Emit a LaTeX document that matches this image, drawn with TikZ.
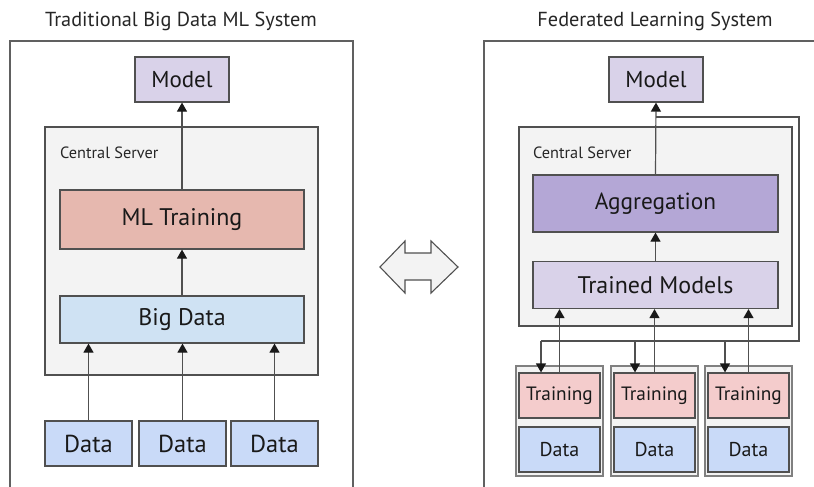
\documentclass[tikz,border=0pt]{standalone}
\usepackage{fontspec}
\setmainfont{PT Sans}
\usetikzlibrary{arrows.meta}

% palette
\definecolor{edge}{HTML}{505050}
\definecolor{framec}{HTML}{606060}
\definecolor{serverbg}{HTML}{F3F3F3}
\definecolor{modelc}{HTML}{D9D2E9}
\definecolor{trainc}{HTML}{E6B8AF}
\definecolor{bigdc}{HTML}{CFE2F3}
\definecolor{datac}{HTML}{C9DAF8}
\definecolor{aggc}{HTML}{B4A7D6}
\definecolor{localc}{HTML}{F4CCCC}

\tikzset{
  blk/.style={draw=edge, line width=1.2pt, inner sep=0pt, rectangle, text=black!90},
  server/.style={blk, fill=serverbg},
  client/.style={draw=black!50, line width=1.4pt, fill=serverbg, inner sep=0pt, rectangle,
                 minimum width=87pt, minimum height=110pt},
  frame/.style={draw=framec, line width=1.2pt},
  link/.style={draw=edge, line width=1.2pt},
  tip/.style={-{Triangle[length=9pt,width=10pt,color=black!90]}},
  title/.style={font=\fontsize{20.3}{22}\selectfont, text=black!85},
  lbl/.style={font=\fontsize{16.3}{18}\selectfont, text=black!85, anchor=west, inner sep=0pt},
  big/.style={font=\fontsize{24}{26}\selectfont},
}

\begin{document}
\begin{tikzpicture}[x=1pt, y=-1pt]
\useasboundingbox (0,0) rectangle (814,487);

% ---------------- left panel: traditional system ----------------
\node[title] (titleL) at (181,21) {Traditional Big Data ML System};
\draw[frame] (10,487) -- (10,41) -- (353,41) -- (353,487);

\node[server, minimum width=273pt, minimum height=248pt] (srvL) at (181.5,251) {};
\node[lbl] (srvLlbl) at (60,153) {Central Server};

\node[blk, fill=modelc, minimum width=94pt, minimum height=45pt,
      font=\fontsize{23}{25}\selectfont] (modL) at (182,79.5) {Model};
\node[blk, fill=trainc, minimum width=244pt, minimum height=59pt,
      font=\fontsize{24}{26}\selectfont] (mlt) at (182,219.5) {ML Training};
\node[blk, big, fill=bigdc, minimum width=244pt, minimum height=47pt] (bigd) at (182,319.5) {Big Data};

\foreach \n/\x in {d1/88.5, d2/182.5, d3/274.5}
  \node[blk, fill=datac, minimum width=87pt, minimum height=45pt,
        font=\fontsize{24.5}{26}\selectfont] (\n) at (\x,443.5) {Data};

\draw[link,tip] (mlt.north) -- (modL.south);
\draw[link,tip] (bigd.north) -- (mlt.south);
\foreach \n in {d1,d2,d3}
  \draw[link,tip] (\n.north) -- (\n.north |- bigd.south);

% ---------------- exchange arrow ----------------
\filldraw[fill=serverbg, draw=edge, line width=1.1pt]
  (380,267) -- (405,241) -- (405,253) -- (431,253) -- (431,241) -- (458,267)
  -- (431,293) -- (431,280) -- (405,280) -- (405,293) -- cycle;

% ---------------- right panel: federated system ----------------
\node[title] (titleR) at (655,21) {Federated Learning System};
\draw[frame] (484,487) -- (484,41) -- (814,41);

\node[server, minimum width=273pt, minimum height=199pt] (srvR) at (655.5,226.5) {};
\node[lbl] (srvRlbl) at (533,153) {Central Server};

\node[blk, fill=modelc, minimum width=94pt, minimum height=45pt,
      font=\fontsize{23}{25}\selectfont] (modR) at (656,79.5) {Model};
\node[blk, fill=aggc, minimum width=245pt, minimum height=57pt,
      font=\fontsize{23.3}{25}\selectfont] (agg) at (655.5,203.5) {Aggregation};
\node[blk, big, fill=modelc, minimum width=245pt, minimum height=47pt] (tm) at (655.5,285) {Trained Models};

% client devices: local training on local data
\foreach \i/\x in {1/559.5, 2/654.5, 3/748.5} {
  \node[client] (c\i) at (\x,421) {};
  \node[blk, fill=localc, minimum width=81pt, minimum height=45pt,
        font=\fontsize{19.3}{21}\selectfont] (tr\i) at (\x,395.5) {Training};
  \node[blk, fill=datac, minimum width=81pt, minimum height=45pt,
        font=\fontsize{20}{22}\selectfont] (ld\i) at (\x,449.5) {Data};
}

% model update: aggregation up to the global model
\draw[link,tip] (agg.north) -- (modR.south);
\draw[link,tip] (tm.north) -- (tm.north |- agg.south);

% global model sent back to every client
\coordinate (fbA) at (656,117);
\coordinate (fbB) at (799,117);
\coordinate (fbC) at (799,341);
\coordinate (fbD) at (541,341);
\draw[link] (fbA) -- (fbB) -- (fbC) -- (fbD);
\draw[link,tip] (fbD) -- (fbD |- tr1.north);
\draw[link,tip] ([xshift=-19.5pt]tr2.north |- fbD) -- ([xshift=-19.5pt]tr2.north);
\draw[link,tip] ([xshift=-23.5pt]tr3.north |- fbD) -- ([xshift=-23.5pt]tr3.north);

% locally trained models uploaded to the server
\foreach \i in {1,2,3}
  \draw[link,tip] (tr\i.north) -- (tr\i.north |- tm.south);

\end{tikzpicture}
\end{document}
